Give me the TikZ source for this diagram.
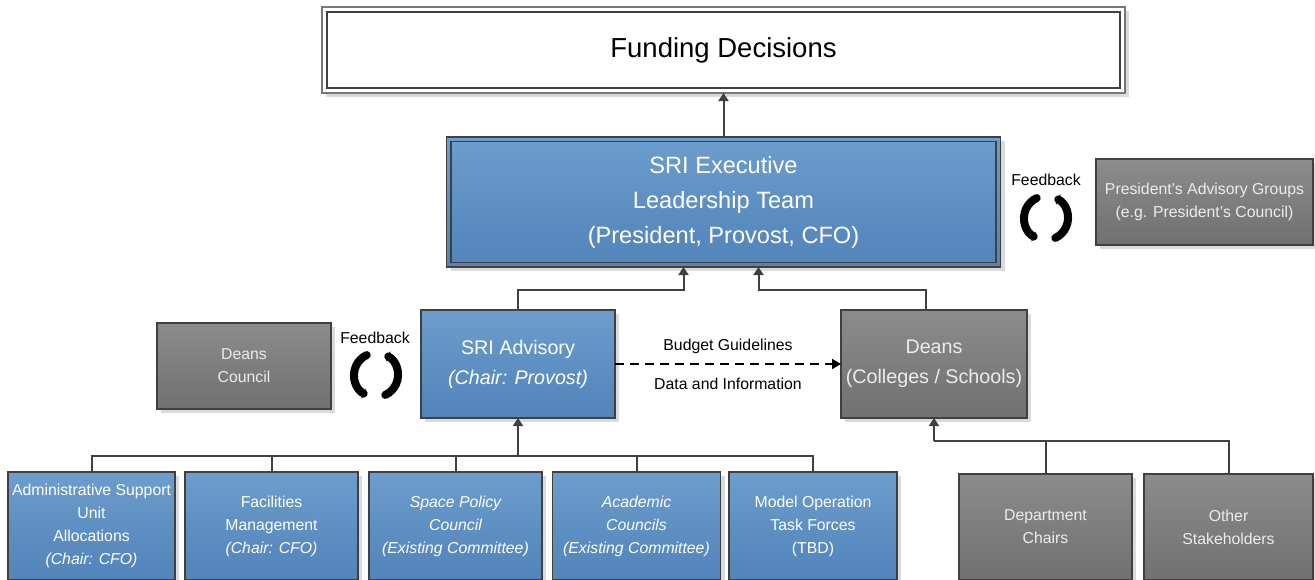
\documentclass[tikz,border=0pt]{standalone}
\usepackage{fontspec}
\setmainfont{Liberation Sans}
\usetikzlibrary{arrows.meta,shadows,calc}

\definecolor{boxline}{RGB}{64,64,64}
\definecolor{frameouter}{RGB}{120,120,120}
\definecolor{bluetop}{RGB}{108,157,204}
\definecolor{bluebot}{RGB}{82,131,186}
\definecolor{graytop}{RGB}{140,140,140}
\definecolor{graybot}{RGB}{112,112,112}
\definecolor{shade}{RGB}{218,218,218}
\definecolor{graytext}{RGB}{236,236,236}

\newcommand\fsTitle{\fontsize{27.5}{33}\selectfont}
\newcommand\fsExec{\fontsize{23.6}{35}\selectfont}
\newcommand\fsMid{\fontsize{19.7}{30}\selectfont}
\newcommand\fsSmall{\fontsize{15.8}{23}\selectfont}

\tikzset{
  every node/.style={inner sep=0pt, outer sep=0pt},
  box/.style={rectangle, align=center, draw=boxline, line width=1.3pt,
    drop shadow={shadow xshift=4pt, shadow yshift=-4pt, fill=shade, opacity=1}},
  bluebox/.style={box, top color=bluetop, bottom color=bluebot, text=white},
  graybox/.style={box, top color=graytop, bottom color=graybot, text=graytext},
  framebox/.style={box, draw=frameouter, fill=white},
  innerline/.style={draw=boxline, line width=1.3pt},
  conn/.style={draw=boxline, line width=2pt},
  tip/.style={-{Triangle[length=8pt,width=10pt]}},
  dashconn/.style={draw=black, line width=1.6pt, dash pattern=on 9pt off 6pt,
    -{Triangle[length=9pt,width=10pt]}},
  fbarc/.style={draw=black, line width=8pt, line cap=round,
    {Triangle[length=3.5pt,width=11pt]}-},
  label/.style={font=\fsSmall, text=black},
}

% two curved arrows forming a cycle, centred on a coordinate
\newcommand\cycleicon[1]{%
  \draw[fbarc] ($(#1)+(115:22)$) arc[start angle=115, end angle=245, radius=22];
  \draw[fbarc] ($(#1)+(-65:22)$) arc[start angle=-65, end angle=65, radius=22];
}

\begin{document}
\begin{tikzpicture}[x=1pt, y=-1pt]
\useasboundingbox (0,0) rectangle (1315,579);

% top level
\node[framebox, minimum width=803, minimum height=86, font=\fsTitle]
  (fd) at (723.5,50) {Funding Decisions};
\draw[innerline] ($(fd.north west)+(5,5)$) rectangle ($(fd.south east)+(-5,-5)$);

\node[bluebox, minimum width=554, minimum height=130, font=\fsExec]
  (ex) at (723.5,202) {SRI Executive\\Leadership Team\\(President, Provost, CFO)};
\draw[innerline] ($(ex.north west)+(4.5,4.5)$) rectangle ($(ex.south east)+(-4.5,-4.5)$);

\node[graybox, minimum width=217, minimum height=86, font=\fsSmall]
  (pag) at (1204.5,202) {President’s Advisory Groups\\(e.g. President’s Council)};

\node[label] (fbr) at (1046,180) {Feedback};
\coordinate (cycR) at (1046,218);
\cycleicon{cycR}

% middle level
\node[bluebox, minimum width=194, minimum height=108, font=\fsMid]
  (adv) at (518,364) {SRI Advisory\\\textit{(Chair: Provost)}};
\node[graybox, minimum width=186, minimum height=108, font=\fsMid]
  (dn) at (934,364) {Deans\\(Colleges / Schools)};
\node[graybox, minimum width=174, minimum height=86, font=\fsSmall]
  (dc) at (244,366) {Deans\\Council};

\node[label] (fbl) at (375,338) {Feedback};
\coordinate (cycL) at (376,375);
\cycleicon{cycL}

% bottom level
\node[bluebox, minimum width=167, minimum height=108, font=\fsSmall]
  (b1) at (91.5,526) {Administrative Support\\Unit\\Allocations\\\textit{(Chair: CFO)}};
\node[bluebox, minimum width=173, minimum height=108, font=\fsSmall]
  (b2) at (271.5,526) {Facilities\\Management\\\textit{(Chair: CFO)}};
\node[bluebox, minimum width=173, minimum height=108, font=\fsSmall\itshape]
  (b3) at (455.5,526) {Space Policy\\Council\\(Existing Committee)};
\node[bluebox, minimum width=168, minimum height=108, font=\fsSmall\itshape]
  (b4) at (636.5,526) {Academic\\Councils\\(Existing Committee)};
\node[bluebox, minimum width=168, minimum height=108, font=\fsSmall]
  (b5) at (813,526) {Model Operation\\Task Forces\\(TBD)};

\node[graybox, minimum width=173, minimum height=106, font=\fsSmall]
  (ch) at (1045.5,527) {Department\\Chairs};
\node[graybox, minimum width=169, minimum height=106, font=\fsSmall]
  (os) at (1228.5,527) {Other\\Stakeholders};

% connectors
\draw[conn,tip] (ex.north) -- (fd.south);
\draw[conn,tip] (adv.north) -- ++(0,-20) -| ($(ex.south)+(-40,0)$);
\draw[conn,tip] ($(dn.north)+(-8,0)$) -- ++(0,-20) -| ($(ex.south)+(35,0)$);

\draw[dashconn] (adv.east) -- (dn.west)
  node[label, midway, yshift=18pt] (bg) {Budget Guidelines}
  node[label, midway, yshift=-20pt] (di) {Data and Information};

\coordinate (busL) at ($(adv.south)+(0,38)$);
\foreach \n in {b1,b2,b3,b4,b5}
  \draw[conn] (\n.north) |- (busL);
\draw[conn,tip] (busL) -- (adv.south);

\coordinate (busR) at ($(dn.south)+(0,23)$);
\draw[conn] (ch.north) |- (busR);
\draw[conn] (os.north) |- (busR);
\draw[conn,tip] (busR) -- (dn.south);
\end{tikzpicture}
\end{document}
